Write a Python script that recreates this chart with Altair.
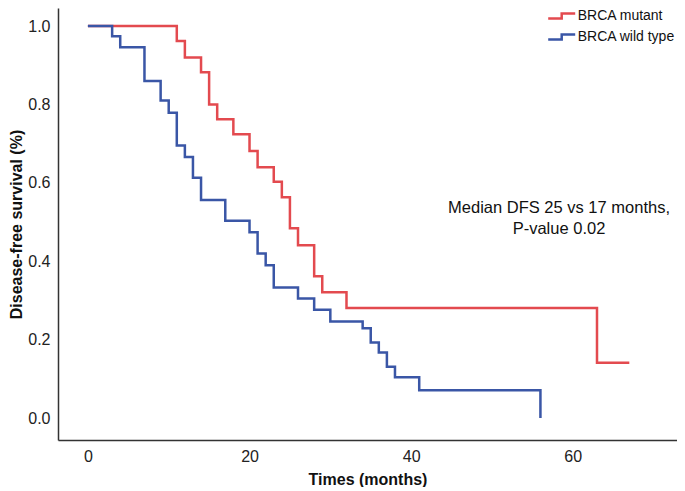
import altair as alt
import pandas as pd

# BRCA mutant (months, survival)
mut_t = [0, 11, 12, 14, 15, 16, 18, 20, 21, 23, 24, 25, 26, 28, 29, 32, 63, 67]
mut_s = [1.0, 0.962, 0.920, 0.882, 0.800, 0.762, 0.724, 0.681, 0.640, 0.603,
         0.563, 0.484, 0.441, 0.362, 0.321, 0.281, 0.141, 0.141]

# BRCA wild type
wt_t = [0, 3, 4, 7, 9, 10, 11, 12, 13, 14, 17, 20, 21, 22, 23, 26, 28, 30,
        34, 35, 36, 37, 38, 41, 56]
wt_s = [1.0, 0.974, 0.946, 0.860, 0.810, 0.779, 0.695, 0.666, 0.613, 0.556,
        0.503, 0.474, 0.420, 0.390, 0.333, 0.305, 0.276, 0.246, 0.229, 0.193,
        0.167, 0.131, 0.104, 0.071, 0.0]

groups = ["BRCA mutant", "BRCA wild type"]
colors = ["#E34A4F", "#3A56A6"]

x_ticks = [0, 20, 40, 60]
y_ticks = [0.0, 0.2, 0.4, 0.6, 0.8, 1.0]

note_lines = ["Median DFS 25 vs 17 months,", "P-value 0.02"]
note_x = [58.3]
note_y = [0.537]

FONT = "Liberation Sans"

df = pd.concat([
    pd.DataFrame({"t": mut_t, "s": mut_s, "g": groups[0], "o": range(len(mut_t))}),
    pd.DataFrame({"t": wt_t, "s": wt_s, "g": groups[1], "o": range(len(wt_t))}),
])

xscale = alt.Scale(domain=[-3.7, 72.9], nice=False, zero=False)
yscale = alt.Scale(domain=[-0.056, 1.046], nice=False, zero=False)

base = alt.Chart(df).mark_line(interpolate="step-after", strokeWidth=2.5).encode(
    x=alt.X("t:Q", scale=xscale,
            axis=alt.Axis(title="Times (months)", values=x_ticks, format="d",
                          ticks=False, tickSize=0, grid=False, labelPadding=8,
                          titlePadding=7)),
    y=alt.Y("s:Q", scale=yscale,
            axis=alt.Axis(title="Disease-free survival (%)", values=y_ticks,
                          format=".1f", ticks=False, tickSize=0, grid=False,
                          labelPadding=8, titlePadding=3)),
    color=alt.Color("g:N", scale=alt.Scale(domain=groups, range=colors),
                    legend=alt.Legend(title=None, orient="none", legendX=494.7,
                                      legendY=-1)),
    order="o:Q",
)

red = base.transform_filter(alt.datum.g == groups[0])
blue = base.transform_filter(alt.datum.g == groups[1])

note_df = pd.DataFrame({"x": note_x, "y": note_y, "txt": [note_lines]})
note = alt.Chart(note_df).mark_text(
    font=FONT, fontSize=16.5, align="center", baseline="middle",
    lineHeight=21, color="#111"
).encode(x=alt.X("x:Q", scale=xscale), y=alt.Y("y:Q", scale=yscale), text="txt")

chart = alt.layer(red, blue, note).properties(
    width=619, height=432,
    autosize=alt.AutoSizeParams(type="none"),
    padding={"left": 50, "top": 0, "right": 0, "bottom": 47},
).configure_view(stroke=None).configure_axis(
    labelFont=FONT, labelFontSize=16, labelColor="#222",
    titleFont=FONT, titleFontSize=16, titleFontWeight="bold", titleColor="#111",
    domainColor="#333", domainWidth=1.5,
).configure_legend(
    labelFont=FONT, labelFontSize=14, labelColor="#111",
    symbolType="M-1.8,0.33L0,0.33L0,-0.33L1.8,-0.33",
    symbolSize=225, symbolStrokeWidth=2.5, symbolFillColor="transparent",
    rowPadding=4, labelOffset=7,
)

chart.save("out.html", embed_options={"renderer": "svg", "actions": False})
